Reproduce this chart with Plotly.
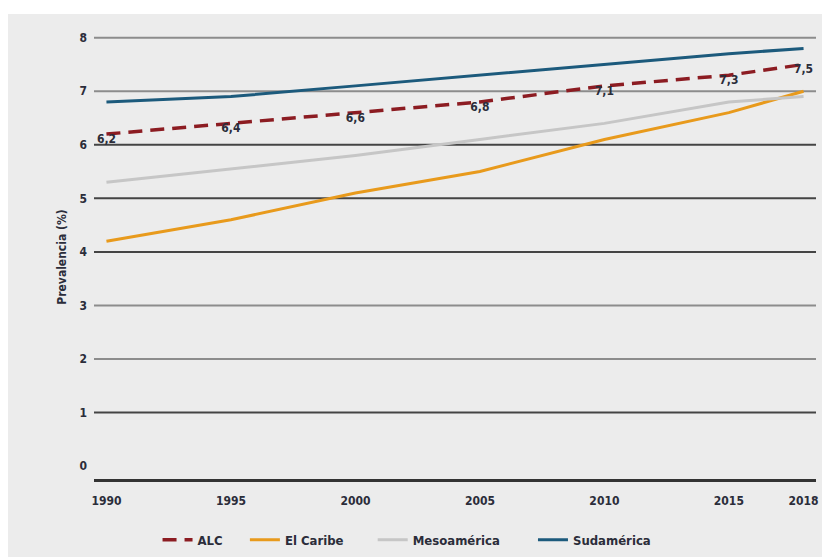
import plotly.graph_objects as go

years = [1990, 1995, 2000, 2005, 2010, 2015, 2018]
alc = [6.2, 6.4, 6.6, 6.8, 7.1, 7.3, 7.5]
caribe = [4.2, 4.6, 5.1, 5.5, 6.1, 6.6, 7.0]
meso = [5.3, 5.55, 5.8, 6.1, 6.4, 6.8, 6.9]
sud = [6.8, 6.9, 7.1, 7.3, 7.5, 7.7, 7.8]
x_ticks = [1990, 1995, 2000, 2005, 2010, 2015, 2018]
y_ticks = [0, 1, 2, 3, 4, 5, 6, 7, 8]

FONT = "DejaVu Sans Condensed, Liberation Sans, sans-serif"
TXT = "#2b2d3a"
RULE_DARK = "#444444"
RULE_LIGHT = "#8c8c8c"
LIGHT_RULES = {2, 3, 7, 8}

fig = go.Figure()
fig.add_trace(go.Scatter(x=years, y=caribe, name="El Caribe", mode="lines", legend="legend2",
                         line=dict(color="#e89a1c", width=3)))
fig.add_trace(go.Scatter(x=years, y=meso, name="Mesoamérica", mode="lines", legend="legend3",
                         line=dict(color="#c6c6c6", width=3)))
fig.add_trace(go.Scatter(x=years, y=sud, name="Sudamérica", mode="lines", legend="legend4",
                         line=dict(color="#1c5a7c", width=3)))
fig.add_trace(go.Scatter(
    x=years, y=alc, name="ALC", mode="lines+text", legend="legend",
    line=dict(color="#8c1c22", width=3.5, dash="14px,8px"),
    text=[f"{v:.1f}".replace(".", ",") for v in alc],
    textposition="bottom center",
    textfont=dict(family=FONT, size=12, color=TXT, weight="bold"),
))

# horizontal rules at every labelled value above zero
grid = [dict(type="line", xref="paper", yref="y", x0=0, x1=1, y0=v, y1=v,
             line=dict(color=RULE_LIGHT if v in LIGHT_RULES else RULE_DARK, width=2),
             layer="below")
        for v in y_ticks if v > 0]

legend_style = dict(orientation="h", y=-0.137, yanchor="middle", xanchor="left",
                    bgcolor="rgba(0,0,0,0)", itemwidth=30,
                    font=dict(family=FONT, size=13, color=TXT, weight="bold"))

fig.update_layout(
    width=822, height=557,
    margin=dict(l=94, r=6, t=35, b=78, autoexpand=False),
    paper_bgcolor="#ececec",
    plot_bgcolor="#ececec",
    font=dict(family=FONT, size=12, color=TXT, weight="bold"),
    showlegend=True,
    legend=dict(x=0.088, **legend_style),
    legend2=dict(x=0.209, **legend_style),
    legend3=dict(x=0.386, **legend_style),
    legend4=dict(x=0.608, **legend_style),
    shapes=[
        dict(type="rect", xref="paper", yref="paper", x0=-0.2, x1=1.1,
             y0=1.0 + (35 - 14) / 444, y1=1.2, fillcolor="white", line_width=0, layer="below"),
        dict(type="rect", xref="paper", yref="paper", x0=-0.2, x1=-(94 - 8) / 722,
             y0=-0.3, y1=1.2, fillcolor="white", line_width=0, layer="below"),
    ] + grid,
)

fig.update_xaxes(
    range=[1989.5, 2018.5], tickvals=x_ticks, ticktext=[str(t) for t in x_ticks],
    showgrid=False, zeroline=False, showline=True, linecolor="#333333", linewidth=3,
    ticks="", ticklabelstandoff=9,
    tickfont=dict(family=FONT, size=12, color=TXT, weight="bold"),
)
fig.update_yaxes(
    range=[-0.24, 8.05], tickvals=y_ticks,
    showgrid=False, zeroline=False, showline=False,
    ticks="", ticklabelstandoff=6,
    tickfont=dict(family=FONT, size=12, color=TXT, weight="bold"),
    title=dict(text="Prevalencia (%)", standoff=10,
               font=dict(family=FONT, size=12, color=TXT, weight="bold")),
)

fig.write_html("out.html")
